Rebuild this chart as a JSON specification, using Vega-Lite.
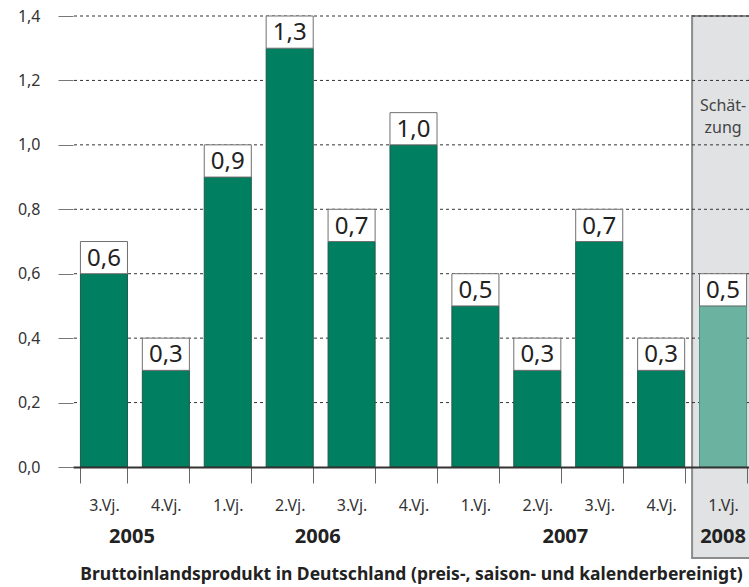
{
  "$schema": "https://vega.github.io/schema/vega-lite/v6.json",
  "autosize": {"type": "none"},
  "padding": {"left": 73, "top": 16, "right": 0, "bottom": 120},
  "width": 676,
  "height": 451,
  "config": {
    "font": "Noto Sans",
    "view": {"stroke": null},
    "locale": {"number": {"decimal": ",", "thousands": ".", "grouping": [3], "currency": ["", " €"]}}
  },
  "datasets": {
    "bip": [
      {"key": "3.Vj. 2005", "v": 0.6, "phase": "Ist"},
      {"key": "4.Vj. 2005", "v": 0.3, "phase": "Ist"},
      {"key": "1.Vj. 2006", "v": 0.9, "phase": "Ist"},
      {"key": "2.Vj. 2006", "v": 1.3, "phase": "Ist"},
      {"key": "3.Vj. 2006", "v": 0.7, "phase": "Ist"},
      {"key": "4.Vj. 2006", "v": 1.0, "phase": "Ist"},
      {"key": "1.Vj. 2007", "v": 0.5, "phase": "Ist"},
      {"key": "2.Vj. 2007", "v": 0.3, "phase": "Ist"},
      {"key": "3.Vj. 2007", "v": 0.7, "phase": "Ist"},
      {"key": "4.Vj. 2007", "v": 0.3, "phase": "Ist"},
      {"key": "1.Vj. 2008", "v": 0.5, "phase": "Schätzung"}
    ],
    "grid": [{"g": 0.2}, {"g": 0.4}, {"g": 0.6}, {"g": 0.8}, {"g": 1.0}, {"g": 1.2}, {"g": 1.4}],
    "years": [
      {"key": "4.Vj. 2005", "year": "2005"},
      {"key": "3.Vj. 2006", "year": "2006"},
      {"key": "3.Vj. 2007", "year": "2007"}
    ]
  },
  "layer": [
    {
      "data": {"name": "bip"},
      "transform": [{"filter": "datum.phase == 'Schätzung'"}],
      "mark": {"type": "bar", "width": {"band": 1.316}, "fill": "#E1E2E4", "stroke": "#8C8C8C", "strokeWidth": 2},
      "encoding": {
        "x": {
          "field": "key", "type": "nominal", "sort": null,
          "title": "Bruttoinlandsprodukt in Deutschland (preis-, saison- und kalenderbereinigt)",
          "scale": {
            "domain": ["3.Vj. 2005", "4.Vj. 2005", "1.Vj. 2006", "2.Vj. 2006", "3.Vj. 2006", "4.Vj. 2006", "1.Vj. 2007", "2.Vj. 2007", "3.Vj. 2007", "4.Vj. 2007", "1.Vj. 2008"],
            "range": [0, 681],
            "paddingInner": 0.24,
            "paddingOuter": 0.12
          },
          "axis": {
            "title": "Bruttoinlandsprodukt in Deutschland (preis-, saison- und kalenderbereinigt)",
            "titleFont": "Noto Sans",
            "titleFontSize": 17.5,
            "titleFontWeight": "bold",
            "titleColor": "#222",
            "titleBaseline": "alphabetic",
            "titleY": 112,
            "titleX": 338,
            "labelExpr": "split(datum.label, ' ')[0]",
            "labelFont": "Noto Sans",
            "labelFontSize": 16,
            "labelColor": "#333",
            "labelPadding": 14,
            "labelAngle": 0,
            "labelBaseline": "top",
            "tickBand": "extent",
            "ticks": true,
            "tickSize": 16,
            "tickColor": "#666",
            "domainColor": "#333",
            "domainWidth": 2,
            "zindex": 1
          }
        },
        "y": {"datum": 1.4, "type": "quantitative", "title": null},
        "y2": {"datum": -0.2825}
      }
    },
    {
      "data": {"name": "grid"},
      "mark": {"type": "rule", "strokeDash": [3, 3], "color": "#333", "strokeWidth": 1},
      "encoding": {
        "y": {
          "field": "g", "type": "quantitative", "title": null,
          "scale": {"domain": [0, 1.4], "nice": false, "zero": true},
          "axis": {
            "values": [0, 0.2, 0.4, 0.6, 0.8, 1.0, 1.2, 1.4],
            "format": ".1f",
            "title": null,
            "domain": false,
            "grid": false,
            "tickSize": 15,
            "tickColor": "#777",
            "labelPadding": 18,
            "labelFont": "Noto Sans",
            "labelFontSize": 16,
            "labelColor": "#333"
          }
        }
      }
    },
    {
      "data": {"name": "bip"},
      "mark": {"type": "bar", "strokeWidth": 1},
      "encoding": {
        "x": {"field": "key", "type": "nominal", "sort": null, "title": "Bruttoinlandsprodukt in Deutschland (preis-, saison- und kalenderbereinigt)"},
        "y": {"field": "v", "type": "quantitative", "title": null},
        "color": {"field": "phase", "type": "nominal", "scale": {"domain": ["Ist", "Schätzung"], "range": ["#008060", "#6BB3A0"]}, "legend": null},
        "stroke": {"field": "phase", "type": "nominal", "scale": {"domain": ["Ist", "Schätzung"], "range": ["#1E5A47", "#4E9582"]}, "legend": null}
      }
    },
    {
      "data": {"name": "bip"},
      "transform": [{"calculate": "datum.v + 0.1", "as": "top"}],
      "mark": {"type": "bar", "fill": "#ffffff", "stroke": "#707070", "strokeWidth": 1},
      "encoding": {
        "x": {"field": "key", "type": "nominal", "sort": null, "title": "Bruttoinlandsprodukt in Deutschland (preis-, saison- und kalenderbereinigt)"},
        "y": {"field": "v", "type": "quantitative", "title": null},
        "y2": {"field": "top"}
      }
    },
    {
      "data": {"name": "bip"},
      "mark": {"type": "text", "baseline": "alphabetic", "dy": -8, "fontSize": 24, "color": "#222"},
      "encoding": {
        "x": {"field": "key", "type": "nominal", "sort": null, "title": "Bruttoinlandsprodukt in Deutschland (preis-, saison- und kalenderbereinigt)"},
        "y": {"field": "v", "type": "quantitative", "title": null},
        "text": {"field": "v", "type": "quantitative", "format": ".1f"}
      }
    },
    {
      "data": {"values": [{"key": "1.Vj. 2008", "t": "Schät-\nzung"}]},
      "mark": {"type": "text", "lineBreak": "\n", "baseline": "middle", "fontSize": 16, "lineHeight": 22, "color": "#444"},
      "encoding": {
        "x": {"field": "key", "type": "nominal", "sort": null, "title": "Bruttoinlandsprodukt in Deutschland (preis-, saison- und kalenderbereinigt)"},
        "y": {"datum": 1.121, "type": "quantitative", "title": null},
        "text": {"field": "t"}
      }
    },
    {
      "data": {"name": "years"},
      "mark": {"type": "text", "baseline": "middle", "fontSize": 20, "fontWeight": "bold", "color": "#222"},
      "encoding": {
        "x": {"field": "key", "type": "nominal", "sort": null, "bandPosition": -0.22, "title": "Bruttoinlandsprodukt in Deutschland (preis-, saison- und kalenderbereinigt)"},
        "y": {"datum": -0.217, "type": "quantitative", "title": null},
        "text": {"field": "year"}
      }
    },
    {
      "data": {"values": [{"key": "1.Vj. 2008", "year": "2008"}]},
      "mark": {"type": "text", "baseline": "middle", "fontSize": 20, "fontWeight": "bold", "color": "#222"},
      "encoding": {
        "x": {"field": "key", "type": "nominal", "sort": null, "title": "Bruttoinlandsprodukt in Deutschland (preis-, saison- und kalenderbereinigt)"},
        "y": {"datum": -0.217, "type": "quantitative", "title": null},
        "text": {"field": "year"}
      }
    }
  ]
}
